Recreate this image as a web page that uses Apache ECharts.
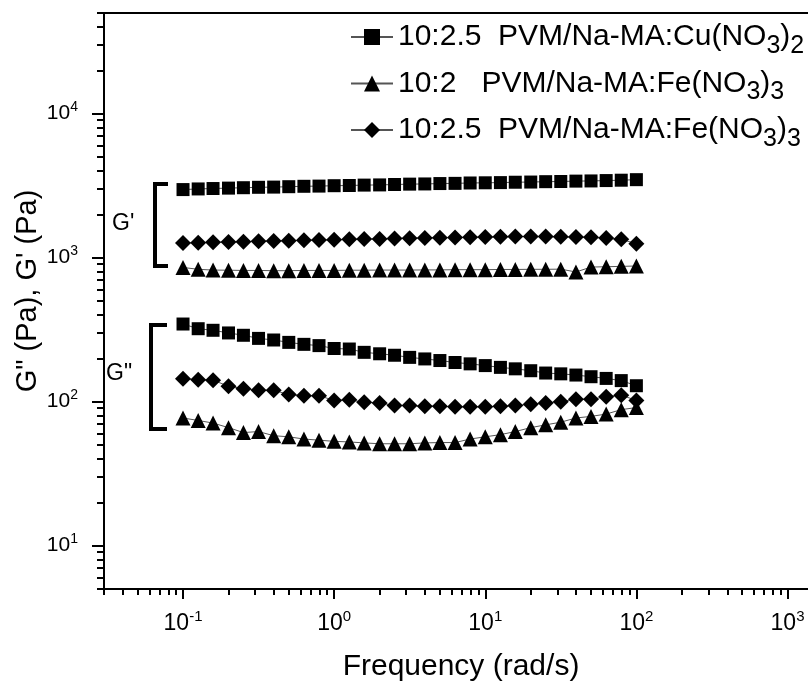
<!DOCTYPE html>
<html>
<head>
<meta charset="utf-8">
<script src="https://cdn.jsdelivr.net/npm/echarts@6/dist/echarts.min.js"></script>
<style>html,body{margin:0;padding:0;background:#fff;}#c{width:808px;height:681px;}</style>
</head>
<body>
<div id="c"></div>
<script>
const freq = [0.1, 0.126, 0.158, 0.2, 0.251, 0.316, 0.398, 0.501, 0.631, 0.794,
  1, 1.26, 1.58, 2, 2.51, 3.16, 3.98, 5.01, 6.31, 7.94,
  10, 12.6, 15.8, 20, 25.1, 31.6, 39.8, 50.1, 63.1, 79.4, 100];

const cuG1 = [2970,3000,3020,3040,3060,3080,3090,3110,3130,3140,3160,3170,3190,3200,3220,3240,3250,3270,3280,3300,3310,3320,3340,3350,3370,3380,3400,3410,3430,3450,3480];
const cuG2 = [346,321,313,300,289,275,268,258,250,245,234,232,220,215,210,203,198,193,187,183,178,173,169,164,158,156,153,149,145,140,129];
const fe2G1 = [855,830,820,818,815,815,812,812,815,815,815,818,818,820,820,820,822,822,825,825,825,828,828,830,830,832,795,860,865,870,875];
const fe2G2 = [77,74,71,66,61,62,58,57,55,54,53,52.5,51.7,51,51,51,51.7,52,52,55,57,59,62,66,69,72,77,79,82,88,91];
const fe25G1 = [1265,1270,1280,1285,1290,1300,1305,1310,1320,1325,1330,1340,1345,1350,1360,1365,1370,1375,1380,1385,1390,1395,1400,1400,1400,1395,1390,1385,1370,1340,1250];
const fe25G2 = [144,142,141,128,123,120,120,112,110,110,102,103,99,98,94,94,93,93,92,92,92,93,94,96,98,100,104,104,108,111,102];

const seriesNames = ['10:2.5  PVM/Na-MA:Cu(NO3)2', '10:2   PVM/Na-MA:Fe(NO3)3', '10:2.5  PVM/Na-MA:Fe(NO3)3'];
const legendRich = [
  '{n|10:2.5  PVM/Na-MA:Cu(NO}{s|3}{n|)}{s|2}',
  '{n|10:2   PVM/Na-MA:Fe(NO}{s|3}{n|)}{s|3}',
  '{n|10:2.5  PVM/Na-MA:Fe(NO}{s|3}{n|)}{s|3}'
];

const xMajorTicks = [0.1, 1, 10, 100, 1000];
const xTickExps = ['-1', '0', '1', '2', '3'];
const xMinorTicks = [0.03,0.04,0.05,0.06,0.07,0.08,0.09,0.2,0.3,0.4,0.5,0.6,0.7,0.8,0.9,2,3,4,5,6,7,8,9,20,30,40,50,60,70,80,90,200,300,400,500,600,700,800,900,2000];
const yMajorTicks = [10, 100, 1000, 10000];
const yTickExps = ['1', '2', '3', '4'];
const yMinorTicks = [5,6,7,8,9,20,30,40,50,60,70,80,90,200,300,400,500,600,700,800,900,2000,3000,4000,5000,6000,7000,8000,9000,20000,30000,40000,50000];

const FONT = 'Liberation Sans, Arial, sans-serif';
const chart = echarts.init(document.getElementById('c'), null, {renderer: 'canvas'});

function pairs(ys) { return freq.map((f, i) => [f, ys[i]]); }
function expLabel(ticks, exps) {
  return function (v) {
    for (let i = 0; i < ticks.length; i++) {
      if (Math.abs(Math.log10(v) - Math.log10(ticks[i])) < 1e-6) return '{b|10}{s|' + exps[i] + '}';
    }
    return '';
  };
}
const xTickRich = {
  b: {fontSize: 23, fontFamily: FONT, color: '#000', lineHeight: 26},
  s: {fontSize: 15, fontFamily: FONT, color: '#000', height: 12, padding: [0, 0, 14, 0]}
};
const yTickRich = {
  b: {fontSize: 21, fontFamily: FONT, color: '#000', lineHeight: 24},
  s: {fontSize: 14, fontFamily: FONT, color: '#000', height: 11, padding: [0, 0, 13, 0]}
};

const lineStyle = {color: '#555', width: 1};
function mk(name, data, symbol, size) {
  return {
    name: name, type: 'line', data: pairs(data), symbol: symbol, symbolSize: size,
    xAxisIndex: 0, yAxisIndex: 0,
    lineStyle: lineStyle, itemStyle: {color: '#000'}, showSymbol: true, animation: false,
    emphasis: {disabled: true}
  };
}

const xMin = 0.03, xMax = 2000, yMin = 5, yMax = 50000;

chart.setOption({
  backgroundColor: '#fff',
  animation: false,
  grid: {left: 104, top: 13, width: 729, height: 576, show: true, borderColor: '#000', borderWidth: 2,
    backgroundColor: 'transparent', outerBoundsMode: 'none', containLabel: false},
  legend: {
    orient: 'vertical', left: 345, top: 16, itemWidth: 42, itemHeight: 20, itemGap: 9,
    data: seriesNames,
    formatter: function (name) { return legendRich[seriesNames.indexOf(name)]; },
    textStyle: {
      rich: {
        n: {fontSize: 30, fontFamily: FONT, color: '#000', lineHeight: 32, height: 32},
        s: {fontSize: 25, fontFamily: FONT, color: '#000', lineHeight: 32, height: 14, padding: [18, 0, 0, 0]}
      }
    }
  },
  xAxis: [
    {
      type: 'log', logBase: 10, min: xMin, max: xMax, position: 'bottom', gridIndex: 0,
      name: 'Frequency (rad/s)', nameLocation: 'middle', nameGap: 63, nameMoveOverlap: false,
      nameTextStyle: {fontSize: 30, fontFamily: FONT, color: '#000', padding: [0, 15, 0, 0]},
      axisLine: {show: true, lineStyle: {color: '#000', width: 2}},
      axisTick: {show: true, inside: false, length: 10, lineStyle: {color: '#000', width: 2}, customValues: xMajorTicks},
      axisLabel: {show: true, margin: 22, formatter: expLabel(xMajorTicks, xTickExps), rich: xTickRich, customValues: xMajorTicks},
      splitLine: {show: false}, minorTick: {show: false}
    },
    {
      type: 'log', logBase: 10, min: xMin, max: xMax, position: 'bottom', gridIndex: 0,
      axisLine: {show: false},
      axisTick: {show: true, inside: false, length: 6, lineStyle: {color: '#000', width: 2}, customValues: xMinorTicks},
      axisLabel: {show: false}, splitLine: {show: false}
    }
  ],
  yAxis: [
    {
      type: 'log', logBase: 10, min: yMin, max: yMax, position: 'left', gridIndex: 0,
      name: 'G" (Pa), G\' (Pa)', nameLocation: 'middle', nameGap: 62, nameMoveOverlap: false,
      nameTextStyle: {fontSize: 29, fontFamily: FONT, color: '#000', padding: [0, 0, 0, 20]},
      axisLine: {show: true, lineStyle: {color: '#000', width: 2}},
      axisTick: {show: true, inside: false, length: 12, lineStyle: {color: '#000', width: 2}, customValues: yMajorTicks},
      axisLabel: {show: true, margin: 26, formatter: expLabel(yMajorTicks, yTickExps), rich: yTickRich, customValues: yMajorTicks},
      splitLine: {show: false}
    },
    {
      type: 'log', logBase: 10, min: yMin, max: yMax, position: 'left', gridIndex: 0,
      axisLine: {show: false},
      axisTick: {show: true, inside: false, length: 7, lineStyle: {color: '#000', width: 2}, customValues: yMinorTicks},
      axisLabel: {show: false}, splitLine: {show: false}
    }
  ],
  graphic: [
    {type: 'polyline', shape: {points: [[168, 184], [155, 184], [155, 266], [168, 266]]}, style: {stroke: '#000', lineWidth: 4, fill: null}},
    {type: 'text', left: 112, top: 212, style: {text: "G'", fontSize: 23, fontFamily: FONT, fill: '#000'}},
    {type: 'polyline', shape: {points: [[167, 325], [151, 325], [151, 429], [167, 429]]}, style: {stroke: '#000', lineWidth: 4, fill: null}},
    {type: 'text', left: 106, top: 362, style: {text: 'G"', fontSize: 23, fontFamily: FONT, fill: '#000'}}
  ],
  series: [
    mk(seriesNames[0], cuG1, 'rect', 13),
    mk(seriesNames[1], fe2G1, 'triangle', 15),
    mk(seriesNames[2], fe25G1, 'diamond', 16),
    mk(seriesNames[0], cuG2, 'rect', 13),
    mk(seriesNames[1], fe2G2, 'triangle', 15),
    mk(seriesNames[2], fe25G2, 'diamond', 16)
  ]
});
</script>
</body>
</html>
